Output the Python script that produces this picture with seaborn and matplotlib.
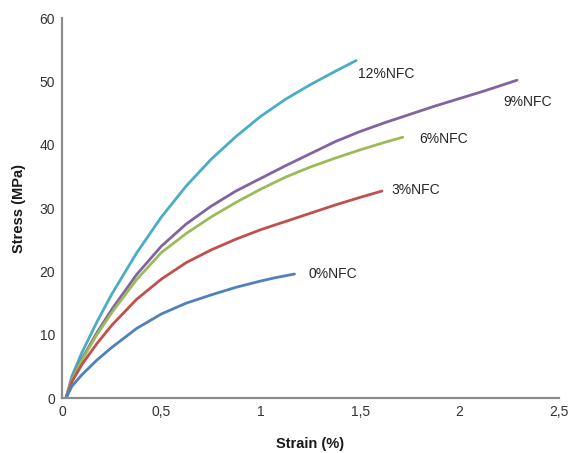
import seaborn as sns
import pandas as pd
import matplotlib.pyplot as plt

# Curves (strain in %, stress in MPa)
strain_12 = [0.02, 0.05, 0.1, 0.175, 0.25, 0.375, 0.5, 0.625, 0.75, 0.875, 1.0, 1.125, 1.25, 1.375, 1.48]
stress_12 = [0, 3.5, 7.2, 12.0, 16.4, 22.9, 28.6, 33.5, 37.7, 41.3, 44.5, 47.2, 49.5, 51.6, 53.3]

strain_9 = [0.02, 0.05, 0.1, 0.175, 0.25, 0.375, 0.5, 0.625, 0.75, 0.875, 1.0, 1.125, 1.25, 1.375,
            1.5, 1.625, 1.75, 1.875, 2.0, 2.125, 2.29]
stress_9 = [0, 3.0, 6.2, 10.3, 14.0, 19.5, 24.0, 27.5, 30.3, 32.7, 34.7, 36.7, 38.6, 40.5,
            42.1, 43.5, 44.8, 46.1, 47.3, 48.5, 50.2]

strain_6 = [0.02, 0.05, 0.1, 0.175, 0.25, 0.375, 0.5, 0.625, 0.75, 0.875, 1.0, 1.125, 1.25, 1.375,
            1.5, 1.625, 1.715]
stress_6 = [0, 2.9, 6.0, 10.0, 13.5, 18.7, 23.0, 26.0, 28.6, 30.9, 33.0, 34.9, 36.5, 37.9,
            39.2, 40.4, 41.2]

strain_3 = [0.02, 0.05, 0.1, 0.175, 0.25, 0.375, 0.5, 0.625, 0.75, 0.875, 1.0, 1.125, 1.25, 1.375,
            1.5, 1.61]
stress_3 = [0, 2.6, 5.3, 8.6, 11.5, 15.6, 18.8, 21.4, 23.4, 25.1, 26.6, 27.9, 29.2, 30.5,
            31.7, 32.7]

strain_0 = [0.02, 0.05, 0.1, 0.175, 0.25, 0.375, 0.5, 0.625, 0.75, 0.875, 1.0, 1.07, 1.17]
stress_0 = [0, 1.9, 3.7, 6.0, 8.0, 11.0, 13.3, 15.0, 16.3, 17.5, 18.5, 19.0, 19.6]

series_names = ['12%NFC', '9%NFC', '6%NFC', '3%NFC', '0%NFC']
colors = ['#4bacc6', '#8064a2', '#9bbb59', '#c0504d', '#4f81bd']

# label anchor points (data coords)
label_x = [1.49, 2.22, 1.80, 1.66, 1.24]
label_y = [51.2, 46.8, 40.9, 32.9, 19.6]

x_ticks = [0, 0.5, 1, 1.5, 2, 2.5]
x_tick_labels = ['0', '0,5', '1', '1,5', '2', '2,5']
y_ticks = [0, 10, 20, 30, 40, 50, 60]

curves = [(strain_12, stress_12), (strain_9, stress_9), (strain_6, stress_6),
          (strain_3, stress_3), (strain_0, stress_0)]
frames = []
for name, (xs, ys) in zip(series_names, curves):
    frames.append(pd.DataFrame({'strain': xs, 'stress': ys, 'series': name}))
df = pd.concat(frames, ignore_index=True)

sns.set_style('white')
plt.rcParams['font.family'] = ['Liberation Sans', 'DejaVu Sans']

fig, ax = plt.subplots(figsize=(5.69, 4.53), dpi=100)
fig.subplots_adjust(left=0.109, right=0.982, bottom=0.121, top=0.960)

sns.lineplot(data=df, x='strain', y='stress', hue='series', hue_order=series_names,
             palette=dict(zip(series_names, colors)), sort=False, linewidth=2.0,
             legend=False, ax=ax)

for name, lx, ly in zip(series_names, label_x, label_y):
    ax.text(lx, ly, name, fontsize=10, color='#262626', va='center', ha='left')

ax.set_xlim(0, 2.5)
ax.set_ylim(0, 60)
ax.set_xticks(x_ticks)
ax.set_xticklabels(x_tick_labels)
ax.set_yticks(y_ticks)
ax.tick_params(length=0, labelsize=10, labelcolor='#333333', pad=5)

ax.set_xlabel('Strain (%)', fontsize=10.5, fontweight='bold', color='#1a1a1a', labelpad=13)
ax.set_ylabel('Stress (MPa)', fontsize=10.5, fontweight='bold', color='#1a1a1a', labelpad=10)

for side in ['top', 'right']:
    ax.spines[side].set_visible(False)
for side in ['left', 'bottom']:
    ax.spines[side].set_color('#8c8c8c')
    ax.spines[side].set_linewidth(1.6)

fig.savefig('out.png', dpi=100)
